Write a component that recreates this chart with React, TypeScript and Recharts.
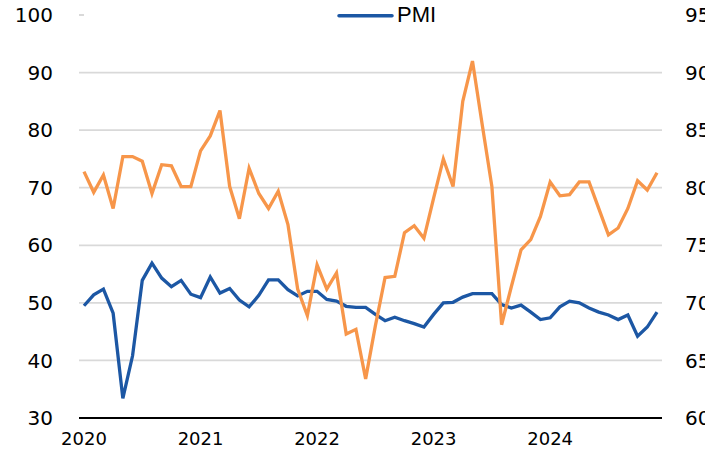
import { LineChart, Line, XAxis, YAxis, CartesianGrid, Legend } from "recharts";

const years = ["2020", "2021", "2022", "2023", "2024"];
const months = ["01", "02", "03", "04", "05", "06", "07", "08", "09", "10", "11", "12"];

// PMI, left axis
const pmi = [
  49.5, 51.4, 52.4, 48.2, 33.4, 40.8, 53.9, 56.9, 54.3, 52.8, 53.9, 51.5,
  50.9, 54.5, 51.7, 52.5, 50.5, 49.3, 51.3, 54.0, 54.0, 52.3, 51.2, 52.0,
  52.0, 50.6, 50.3, 49.4, 49.2, 49.2, 48.0, 46.9, 47.5, 46.9, 46.4, 45.8,
  48.0, 50.0, 50.1, 51.0, 51.6, 51.6, 51.6, 49.7, 49.1, 49.6, 48.4, 47.1,
  47.4, 49.3, 50.3, 50.0, 49.1, 48.4, 47.9, 47.1, 47.9, 44.2, 45.8, 48.4,
];

// second series, right axis
const index = [
  81.4, 79.6, 81.1, 78.2, 82.7, 82.7, 82.3, 79.5, 82.0, 81.9, 80.1, 80.1,
  83.2, 84.5, 86.7, 80.1, 77.3, 81.7, 79.5, 78.2, 79.7, 76.8, 71.2, 68.9,
  73.3, 71.2, 72.6, 67.3, 67.7, 63.4, 68.0, 72.2, 72.3, 76.1, 76.7, 75.6,
  79.1, 82.5, 80.1, 87.5, 91.0, 85.5, 80.1, 68.1, 71.4, 74.6, 75.5, 77.5,
  80.5, 79.3, 79.4, 80.5, 80.5, 78.2, 75.9, 76.5, 78.2, 80.6, 79.8, 81.3,
];

const leftTicks = [30, 40, 50, 60, 70, 80, 90, 100];
const rightTicks = [60, 65, 70, 75, 80, 85, 90, 95];

const categories = years.flatMap((y) => months.map((m) => `${y}-${m}`));
const data = categories.map((date, i) => ({ date, pmi: pmi[i], index: index[i] }));

const BLUE = "#1c57a4";
const ORANGE = "#f7964a";
const tickFont = "'DejaVu Sans', sans-serif";

const PmiLegend = () => (
  <div style={{ width: 578, height: 28, background: "#fff", position: "relative" }}>
    <svg width={64} height={28} style={{ position: "absolute", left: 250, top: 0 }}>
      <line x1={5} y1={14.7} x2={58} y2={14.7} stroke={BLUE} strokeWidth={3.5} strokeLinecap="round" />
    </svg>
    <span
      style={{
        position: "absolute",
        left: 313,
        top: 2,
        fontFamily: "'Liberation Sans', Arial, sans-serif",
        fontSize: 22,
        color: "#000",
        lineHeight: "24px",
        whiteSpace: "nowrap",
      }}
    >
      PMI
    </span>
  </div>
);

export default function App() {
  return (
    <div style={{ position: "absolute", left: 0, top: 0, width: 705, height: 463, overflow: "hidden", background: "#fff" }}>
      <LineChart width={760} height={463} data={data} margin={{ top: 15, right: 0, bottom: 0, left: 0 }}>
        <CartesianGrid yAxisId="left" horizontal vertical={false} stroke="#d9d9d9" strokeWidth={1.8} />
        <XAxis
          dataKey="date"
          interval={11}
          tickFormatter={(v: string) => v.slice(0, 4)}
          padding={{ left: 5, right: 5 }}
          axisLine={{ stroke: "#000", strokeWidth: 2 }}
          tickLine={false}
          tickSize={0}
          tickMargin={14}
          height={45}
          tick={{ fill: "#000", fontSize: 18, fontFamily: tickFont }}
        />
        <YAxis
          yAxisId="left"
          domain={[30, 100]}
          ticks={leftTicks}
          axisLine={false}
          tickLine={false}
          tickSize={0}
          tickMargin={26}
          width={79}
          tick={{ fill: "#000", fontSize: 20, fontFamily: tickFont }}
        />
        <YAxis
          yAxisId="right"
          orientation="right"
          domain={[60, 95]}
          ticks={rightTicks}
          axisLine={false}
          tickLine={false}
          tickSize={0}
          tickMargin={23}
          width={98}
          tick={{ fill: "#000", fontSize: 20, fontFamily: tickFont, textAnchor: "start" }}
        />
        <Legend
          layout="horizontal"
          verticalAlign="middle"
          align="center"
          content={() => <PmiLegend />}
          wrapperStyle={{ top: 1, left: 84, width: 578, height: 28 }}
        />
        <Line
          yAxisId="left"
          type="linear"
          dataKey="pmi"
          name="PMI"
          stroke={BLUE}
          strokeWidth={3.3}
          dot={false}
          activeDot={false}
          isAnimationActive={false}
        />
        <Line
          yAxisId="right"
          type="linear"
          dataKey="index"
          legendType="none"
          stroke={ORANGE}
          strokeWidth={3.3}
          dot={false}
          activeDot={false}
          isAnimationActive={false}
        />
      </LineChart>
    </div>
  );
}
